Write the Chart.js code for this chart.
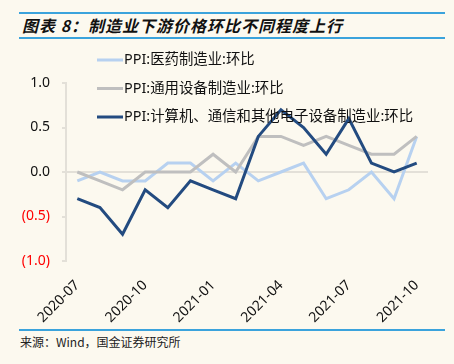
<!DOCTYPE html>
<html>
<head>
<meta charset="utf-8">
<script src="https://cdn.jsdelivr.net/npm/chart.js@4"></script>
<style>
  body { margin: 0; background: #fcf9ef; width: 454px; height: 364px; position: relative; overflow: hidden;
         font-family: "Noto Sans", "Noto Sans CJK SC", sans-serif; }
  .rule { position: absolute; left: 19px; width: 426px; height: 2px; background: #3ba3dc; }
  #title { position: absolute; left: 22px; top: 13px; font-size: 16px; font-weight: bold; font-style: italic;
           color: #111; letter-spacing: 1px; line-height: 24px; font-family: "Noto Sans CJK SC", sans-serif; }
  #source { position: absolute; left: 20px; top: 333px; font-size: 12px; color: #222; font-family: "Noto Sans CJK SC", sans-serif; }
  #wrap { position: absolute; left: 0; top: 39px; width: 454px; height: 290px; }
</style>
</head>
<body>
<div class="rule" style="top:12px"></div>
<div id="title">图表 8：制造业下游价格环比不同程度上行</div>
<div class="rule" style="top:37px"></div>
<div id="wrap"><canvas id="lineChart"></canvas></div>
<div class="rule" style="top:329px"></div>
<div id="source">来源：Wind，国金证券研究所</div>
<script>
const months = ['2020-07', '2020-08', '2020-09', '2020-10', '2020-11', '2020-12', '2021-01', '2021-02',
  '2021-03', '2021-04', '2021-05', '2021-06', '2021-07', '2021-08', '2021-09', '2021-10'];
const pharma = [-0.1, 0, -0.1, -0.1, 0.1, 0.1, -0.1, 0.1, -0.1, 0, 0.1, -0.3, -0.2, 0, -0.3, 0.4];
const equipment = [0, -0.1, -0.2, 0, 0, 0, 0.2, 0, 0.4, 0.4, 0.3, 0.4, 0.3, 0.2, 0.2, 0.4];
const electronics = [-0.3, -0.4, -0.7, -0.2, -0.4, -0.1, -0.2, -0.3, 0.4, 0.7, 0.5, 0.2, 0.6, 0.1, 0, 0.1];
const seriesNames = ['PPI:医药制造业:环比', 'PPI:通用设备制造业:环比', 'PPI:计算机、通信和其他电子设备制造业:环比'];
const yTicks = [-1, -0.5, 0, 0.5, 1];

const FONT = '"Noto Sans", "Noto Sans CJK SC", sans-serif';

// legend drawn inside the plot, top left
const innerLegend = {
  id: 'innerLegend',
  afterDraw(chart) {
    const ctx = chart.ctx;
    ctx.save();
    ctx.font = '14.4px ' + FONT;
    ctx.textBaseline = 'middle';
    chart.data.datasets.forEach((ds, i) => {
      const y = 21 + i * 28.5;
      ctx.strokeStyle = ds.borderColor;
      ctx.lineWidth = 3;
      ctx.beginPath();
      ctx.moveTo(97, y);
      ctx.lineTo(123, y);
      ctx.stroke();
      ctx.fillStyle = '#111';
      ctx.fillText(ds.label, 124, y);
    });
    ctx.restore();
  }
};

const ctx = document.getElementById('lineChart').getContext('2d');
new Chart(ctx, {
  type: 'line',
  data: {
    labels: months,
    datasets: [
      { label: seriesNames[0], data: pharma, borderColor: '#b7d1f0', borderWidth: 3, pointRadius: 0, order: 2 },
      { label: seriesNames[1], data: equipment, borderColor: '#bfbfbf', borderWidth: 3, pointRadius: 0, order: 1 },
      { label: seriesNames[2], data: electronics, borderColor: '#234b80', borderWidth: 3, pointRadius: 0, order: 0 }
    ]
  },
  options: {
    responsive: true,
    maintainAspectRatio: false,
    animation: false,
    layout: { padding: { top: 44, right: 26, left: 0, bottom: 0 } },
    plugins: {
      legend: { display: false },
      tooltip: { enabled: false }
    },
    scales: {
      x: {
        offset: true,
        grid: { display: false, drawTicks: false },
        border: { display: false },
        afterFit(scale) { scale.height = 68; },
        ticks: {
          autoSkip: false,
          minRotation: 45,
          maxRotation: 45,
          padding: 16,
          color: '#111',
          font: { family: FONT, size: 14 },
          callback(v, i) { return i % 3 === 0 ? months[i] : ''; }
        }
      },
      y: {
        min: -1,
        max: 1,
        afterFit(scale) { scale.width = 66; },
        afterBuildTicks(scale) { scale.ticks = yTicks.map(v => ({ value: v })); },
        grid: {
          color: c => (c.tick && c.tick.value === 0 ? '#e3e0d8' : 'rgba(0,0,0,0)'),
          tickColor: '#e3e0d8',
          tickLength: 4,
          lineWidth: 2
        },
        border: { color: '#e3e0d8', width: 2 },
        ticks: {
          padding: 12,
          font: { family: FONT, size: 14 },
          color: c => (c.tick.value < 0 ? '#ff0000' : '#111'),
          callback(v) { return v < 0 ? '(' + Math.abs(v).toFixed(1) + ')' : v.toFixed(1); }
        }
      }
    }
  },
  plugins: [innerLegend]
});
</script>
</body>
</html>
